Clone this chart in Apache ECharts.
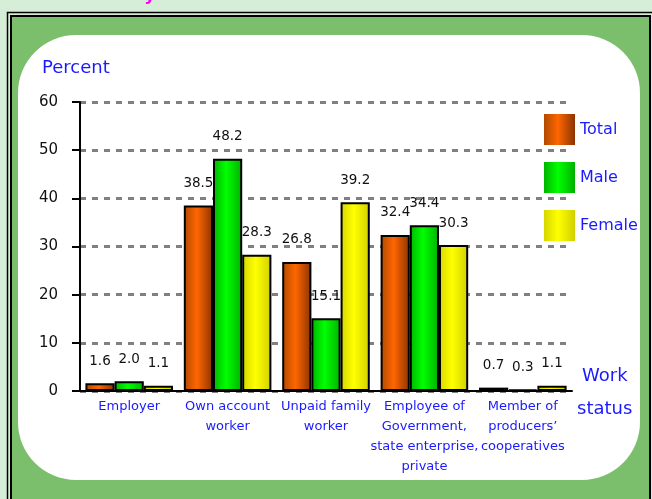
<!DOCTYPE html>
<html style="height: 100%">
<head>
    <meta charset="utf-8">
</head>
<body style="height: 100%; margin: 0">
<div id="work_status_container" style="height: 499px;width: 652px"></div>
<script src="https://cdn.jsdelivr.net/npm/echarts@6/dist/echarts.min.js"></script>
<script type="text/javascript">
    var categories = ['Employer', 'Own account\nworker', 'Unpaid family\nworker',
        'Employee of\nGovernment,\nstate enterprise,\nprivate', 'Member of\nproducers\u2019\ncooperatives'];
    var totalValues = [1.6, 38.5, 26.8, 32.4, 0.7];
    var maleValues = [2.0, 48.2, 15.1, 34.4, 0.3];
    var femaleValues = [1.1, 28.3, 39.2, 30.3, 1.1];
    var seriesNames = ['Total', 'Male', 'Female'];

    var blue = '#1a1aff';
    var font = 'DejaVu Sans';

    function grad(edge1, mid, edge2) {
        return new echarts.graphic.LinearGradient(0, 0, 1, 0, [
            { offset: 0, color: edge1 },
            { offset: 0.45, color: mid },
            { offset: 1, color: edge2 }
        ]);
    }
    var fills = [
        grad('#b04a00', '#ff6600', '#8a3300'),
        grad('#00b400', '#00ff00', '#00b000'),
        grad('#d6d600', '#ffff00', '#d0d000')
    ];

    function makeSeries(name, values, fill) {
        return {
            name: name,
            type: 'bar',
            barGap: '0%',
            barCategoryGap: '11%',
            data: values,
            itemStyle: {
                color: fill,
                borderColor: '#000',
                borderWidth: 2
            },
            label: {
                show: true,
                position: 'top',
                distance: 15,
                color: '#111',
                fontFamily: font,
                fontSize: 13.5,
                formatter: function (p) { return p.value.toFixed(1); }
            }
        };
    }

    var chart = echarts.init(document.getElementById('work_status_container'));
    var option = {
        backgroundColor: '#d6edd7',
        animation: false,
        graphic: [
            // title cut off at the top of the picture
            { type: 'text', z: -10, left: 132, top: -12.5,
              style: { text: 'by Work status and sex', fill: '#ff00ff', font: 'bold 17px "DejaVu Sans"' } },
            { type: 'rect', z: -10, shape: { x: 7.5, y: 12.5, width: 660, height: 520 },
              style: { fill: null, stroke: '#000', lineWidth: 1.5 } },
            { type: 'rect', z: -10, shape: { x: 11, y: 16, width: 639, height: 520 },
              style: { fill: '#7bbf6c', stroke: '#000', lineWidth: 2 } },
            { type: 'rect', z: -9, shape: { x: 18, y: 35, width: 622, height: 445, r: 58 },
              style: { fill: '#ffffff' } },
            { type: 'text', left: 42, top: 59,
              style: { text: 'Percent', fill: blue, font: '18px "DejaVu Sans"' } },
            { type: 'text', left: 582, top: 367,
              style: { text: 'Work', fill: blue, font: '18px "DejaVu Sans"' } },
            { type: 'text', left: 577, top: 400,
              style: { text: 'status', fill: blue, font: '18px "DejaVu Sans"' } }
        ],
        legend: {
            orient: 'vertical',
            left: 539,
            top: 109,
            itemWidth: 31,
            itemHeight: 31,
            itemGap: 17,
            itemTextGap: 8,
            icon: 'rect',
            itemStyle: { borderWidth: 0 },
            textStyle: { color: blue, fontSize: 16, fontFamily: font },
            data: seriesNames
        },
        grid: {
            left: 80,
            right: 80,
            top: 102,
            bottom: 108,
            containLabel: false
        },
        xAxis: {
            type: 'category',
            data: categories,
            axisLine: { lineStyle: { color: '#000', width: 2 } },
            axisTick: { show: false },
            axisLabel: {
                color: blue,
                fontFamily: font,
                fontSize: 13,
                lineHeight: 20,
                margin: 6,
                interval: 0
            }
        },
        yAxis: {
            type: 'value',
            min: 0,
            max: 60,
            interval: 10,
            axisLine: { show: true, lineStyle: { color: '#000', width: 2 } },
            axisTick: { show: true, length: 8, lineStyle: { color: '#000', width: 2 } },
            axisLabel: { color: '#111', fontFamily: font, fontSize: 15, margin: 22 },
            splitLine: { lineStyle: { color: '#808080', width: 3, type: [6, 6] } }
        },
        series: [
            makeSeries(seriesNames[0], totalValues, fills[0]),
            makeSeries(seriesNames[1], maleValues, fills[1]),
            makeSeries(seriesNames[2], femaleValues, fills[2])
        ]
    };
    chart.setOption(option, true);
</script>
</body>
</html>
